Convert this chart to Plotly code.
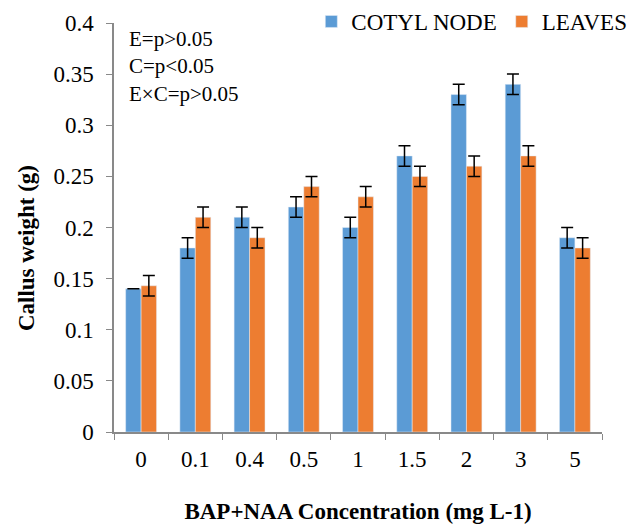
import plotly.graph_objects as go

categories = ["0", "0.1", "0.4", "0.5", "1", "1.5", "2", "3", "5"]
cotyl_node = [0.14, 0.18, 0.21, 0.22, 0.20, 0.27, 0.33, 0.34, 0.19]
cotyl_err = [0.0, 0.01, 0.01, 0.01, 0.01, 0.01, 0.01, 0.01, 0.01]
leaves = [0.143, 0.21, 0.19, 0.24, 0.23, 0.25, 0.26, 0.27, 0.18]
leaves_err = [0.01, 0.01, 0.01, 0.01, 0.01, 0.01, 0.01, 0.01, 0.01]
y_ticks = [0, 0.05, 0.1, 0.15, 0.2, 0.25, 0.3, 0.35, 0.4]
y_ticktext = ["0", "0.05", "0.1", "0.15", "0.2", "0.25", "0.3", "0.35", "0.4"]

FONT = "Times New Roman, Liberation Serif, DejaVu Serif, serif"
AXIS_GREY = "#898989"
FS = 23

fig = go.Figure()
fig.add_trace(go.Bar(
    name="COTYL NODE", x=categories, y=cotyl_node,
    marker=dict(color="#5B9BD5"),
    error_y=dict(type="data", array=cotyl_err, visible=True,
                 color="black", thickness=1.5, width=6),
))
fig.add_trace(go.Bar(
    name="LEAVES", x=categories, y=leaves,
    marker=dict(color="#ED7D31"),
    error_y=dict(type="data", array=leaves_err, visible=True,
                 color="black", thickness=1.5, width=6),
))

fig.update_layout(
    width=640, height=526,
    margin=dict(l=114, r=38, t=23, b=94, autoexpand=False),
    paper_bgcolor="white", plot_bgcolor="white",
    barmode="group", bargap=0.43, bargroupgap=0,
    font=dict(family=FONT, size=FS, color="black"),
    showlegend=True,
    legend=dict(orientation="h", xref="container", yref="container",
                x=0.988, xanchor="right", y=1.0, yanchor="top",
                font=dict(family=FONT, size=FS, color="black"),
                bgcolor="rgba(0,0,0,0)", traceorder="normal",
                itemwidth=30, tracegroupgap=0),
    xaxis=dict(
        type="category", showline=True, linecolor=AXIS_GREY, linewidth=1.5,
        ticks="outside", tickson="boundaries", ticklen=6, tickcolor=AXIS_GREY,
        tickwidth=1, tickfont=dict(family=FONT, size=FS, color="black"),
        ticklabelstandoff=6, showgrid=False, zeroline=False,
        title=dict(text="<b>BAP+NAA Concentration (mg L-1)</b>",
                   font=dict(family=FONT, size=FS, color="black"), standoff=32),
    ),
    yaxis=dict(
        range=[0, 0.4], tickvals=y_ticks, ticktext=y_ticktext,
        showline=True, linecolor=AXIS_GREY, linewidth=1.5,
        ticks="outside", ticklen=6, tickcolor=AXIS_GREY, tickwidth=1,
        tickfont=dict(family=FONT, size=FS, color="black"),
        ticklabelstandoff=8, showgrid=False, zeroline=False,
    ),
)

fig.add_annotation(
    text="<b>Callus weight (g)</b>", xref="paper", yref="paper",
    x=-0.178, y=0.45, xanchor="center", yanchor="middle", textangle=-90,
    showarrow=False, font=dict(family=FONT, size=FS, color="black"),
)
fig.add_annotation(
    text="E=p>0.05<br>C=p<0.05<br>E×C=p>0.05", xref="paper", yref="paper",
    x=0.027, y=0.995, xanchor="left", yanchor="top", align="left",
    showarrow=False, font=dict(family=FONT, size=21, color="black"),
)

fig.write_html("out.html")
